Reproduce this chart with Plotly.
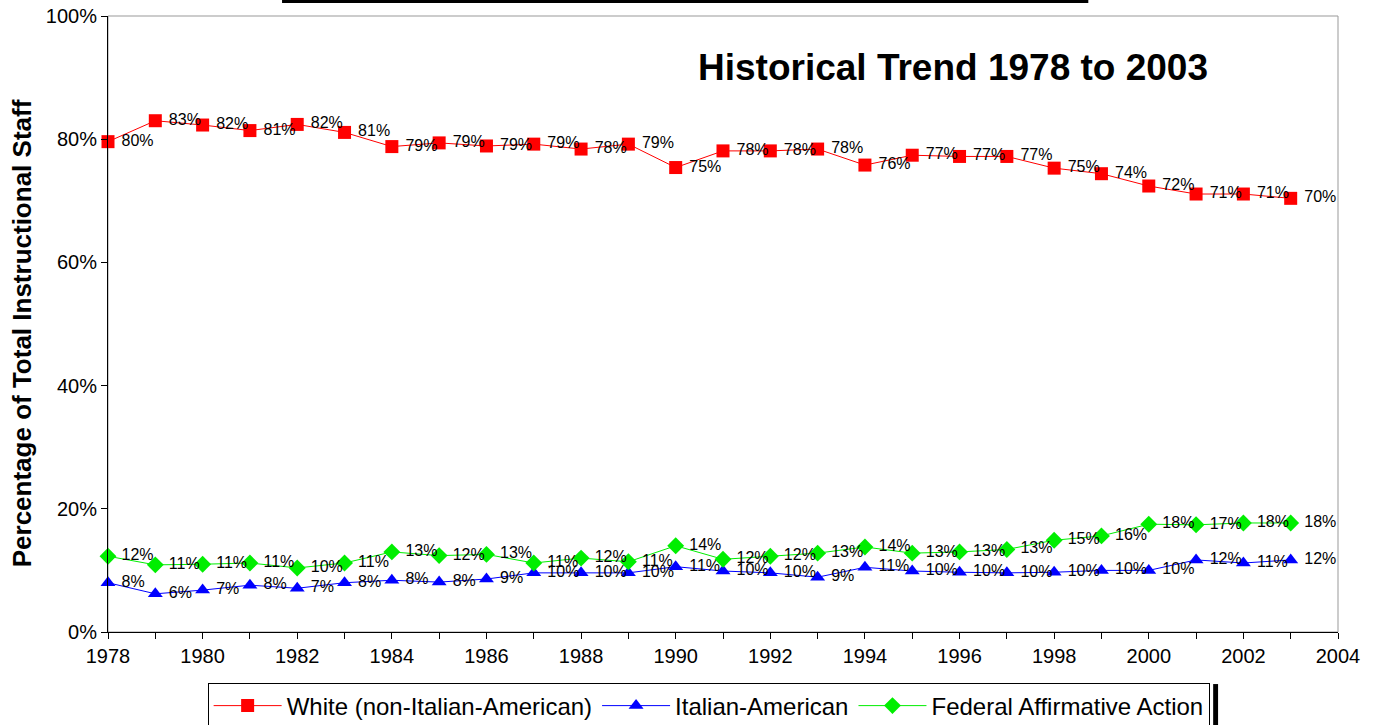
import plotly.graph_objects as go

years = list(range(1978, 2004))

white = [79.6, 83.0, 82.3, 81.4, 82.4, 81.1, 78.8, 79.4, 78.9, 79.2, 78.4, 79.2, 75.4,
         78.1, 78.1, 78.4, 75.8, 77.4, 77.2, 77.2, 75.3, 74.4, 72.4, 71.1, 71.1, 70.4]
italian = [8.0, 6.2, 6.8, 7.6, 7.1, 8.0, 8.4, 8.1, 8.6, 9.6, 9.6, 9.6, 10.6,
           9.9, 9.6, 8.9, 10.5, 9.9, 9.7, 9.6, 9.7, 10.0, 10.0, 11.7, 11.2, 11.7]
faa = [12.3, 10.9, 11.0, 11.2, 10.4, 11.2, 13.0, 12.4, 12.6, 11.2, 12.0, 11.4, 14.0,
       11.8, 12.3, 12.8, 13.8, 12.8, 13.0, 13.4, 14.9, 15.6, 17.5, 17.4, 17.7, 17.7]

names = ["White (non-Italian-American)", "Italian-American", "Federal Affirmative Action"]
x_tickvals = list(range(1978, 2005))
x_ticktext = [str(y) if y % 2 == 0 else "" for y in x_tickvals]
y_tickvals = [0, 0.2, 0.4, 0.6, 0.8, 1.0]

FONT = "Liberation Sans, Arial, sans-serif"

fig = go.Figure()
series = [
    (white, names[0], "#FF0000", "square"),
    (italian, names[1], "#0000FF", "triangle-up"),
    (faa, names[2], "#00EE00", "diamond"),
]
for vals, name, color, sym in series:
    fig.add_trace(go.Scatter(
        x=years, y=[v / 100 for v in vals], name=name,
        mode="lines+markers+text",
        line=dict(color=color, width=1),
        marker=dict(symbol=sym, size=13, color=color),
        texttemplate=" %{y:.0%}",
        textposition="middle right",
        textfont=dict(family=FONT, size=16, color="black"),
        cliponaxis=False,
    ))

fig.update_layout(
    width=1377, height=725,
    margin=dict(l=108, r=39, t=16, b=93, autoexpand=False),
    plot_bgcolor="white", paper_bgcolor="white",
    font=dict(family=FONT, size=20, color="black"),
    showlegend=True,
    legend=dict(orientation="h", x=0.081, y=-0.082, xanchor="left", yanchor="top",
                bordercolor="black", borderwidth=1, bgcolor="white",
                font=dict(family=FONT, size=24), itemwidth=68),
    xaxis=dict(range=[1978, 2004], tickvals=x_tickvals, ticktext=x_ticktext, automargin=False,
               showgrid=False, zeroline=False, showline=True, linecolor="black", linewidth=1,
               ticks="outside", ticklen=6, tickcolor="black",
               tickfont=dict(family=FONT, size=20)),
    yaxis=dict(range=[0, 1], tickvals=y_tickvals, tickformat=".0%", automargin=False,
               showgrid=False, zeroline=False, showline=True, linecolor="black", linewidth=1,
               ticks="outside", ticklen=6, tickcolor="black",
               tickfont=dict(family=FONT, size=20)),
    xaxis2=dict(range=[1978, 2004], overlaying="x", anchor="y", side="bottom", automargin=False,
                tickvals=x_tickvals, showticklabels=False, ticks="inside", ticklen=5,
                tickcolor="black", showgrid=False, zeroline=False, showline=False),
    yaxis2=dict(range=[0, 1], overlaying="y", anchor="x", side="left", automargin=False,
                tickvals=y_tickvals, showticklabels=False, ticks="inside", ticklen=5,
                tickcolor="black", showgrid=False, zeroline=False, showline=False),
)

# gray plot-area frame (top/right visible)
fig.add_shape(type="rect", xref="paper", yref="paper", x0=0, x1=1, y0=0, y1=1,
              line=dict(color="#999999", width=1), layer="below")
# black bar at top
fig.add_shape(type="rect", xref="paper", yref="paper", x0=0.1415, x1=0.797, y0=1.021, y1=1.03,
              line=dict(width=0), fillcolor="black")
# legend shadow on right
fig.add_shape(type="rect", xref="paper", yref="paper", x0=0.8985, x1=0.9025, y0=-0.151, y1=-0.0845,
              line=dict(width=0), fillcolor="black")

fig.add_annotation(text="<b>Historical Trend 1978 to 2003</b>", xref="paper", yref="paper",
                   x=0.687, y=0.9156, xanchor="center", yanchor="middle", showarrow=False,
                   font=dict(family=FONT, size=37, color="black"))

fig.add_annotation(text="<b>Percentage of Total Instructional Staff</b>", xref="paper", yref="paper",
                   x=-0.0699, y=0.485, xanchor="center", yanchor="middle", showarrow=False,
                   textangle=-90, font=dict(family=FONT, size=26, color="black"))

fig.write_html("out.html", config={"displayModeBar": False},
               post_script="document.body.style.margin='0';document.body.style.overflow='hidden';")
